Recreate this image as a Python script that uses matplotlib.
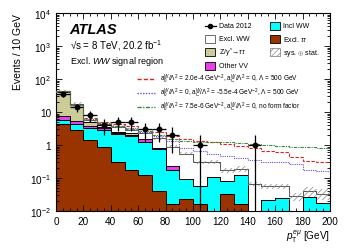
import numpy as np
import matplotlib
matplotlib.use("Agg")
import matplotlib.pyplot as plt
from matplotlib.patches import Rectangle
from matplotlib.ticker import FixedLocator, FixedFormatter, MultipleLocator, LogLocator, NullFormatter

plt.rcParams['font.family'] = ['Liberation Sans', 'DejaVu Sans']
plt.rcParams['mathtext.fontset'] = 'custom'
plt.rcParams['mathtext.rm'] = 'Liberation Sans'
plt.rcParams['mathtext.it'] = 'Liberation Sans:italic'
plt.rcParams['mathtext.bf'] = 'Liberation Sans:bold'
plt.rcParams['hatch.linewidth'] = 0.5

# ---------------- data ----------------
bin_edges = list(range(0, 210, 10))
excl_tautau = [4.5, 2.8, 1.4, 0.9, 0.3, 0.17, 0.12, 0.04, 0.016, 0.023, 0.016, 0.0, 0.033, 0.016, 0.0, 0.0, 0.0, 0.0, 0.0, 0.0]
incl_ww = [1.2, 1.7, 1.9, 1.95, 1.9, 1.73, 1.13, 0.72, 0.154, 0.07, 0.041, 0.105, 0.05, 0.107, 0.0, 0.022, 0.025, 0.0, 0.026, 0.017]
other_vv = [2.0, 1.0, 0.55, 0.45, 0.2, 0.15, 0.25, 0.05, 0.07, 0.0, 0.0, 0.0, 0.0, 0.0, 0.0, 0.0, 0.0, 0.0, 0.0, 0.0]
z_tautau = [34.0, 12.0, 1.05, 0.3, 0.1, 0.25, 0.0, 0.0, 0.0, 0.0, 0.0, 0.0, 0.0, 0.0, 0.0, 0.0, 0.0, 0.0, 0.0, 0.0]
excl_ww = [0.8, 0.5, 0.7, 0.9, 1.1, 0.6, 0.9, 0.8, 0.66, 0.46, 0.24, 0.2, 0.09, 0.067, 0.066, 0.034, 0.031, 0.028, 0.014, 0.017]
rel_unc = [0.12, 0.12, 0.1, 0.1, 0.1, 0.1, 0.1, 0.1, 0.1, 0.12, 0.12, 0.15, 0.2, 0.2, 0.15, 0.15, 0.15, 0.3, 0.35, 0.35]
data_2012 = [35, 14, 8, 4, 5, 5, 3, 3, 2, 0, 1, 0, 0, 0, 1, 0, 0, 0, 0, 0]
sig_a0 = [43, 16, 6.5, 5.0, 4.5, 3.9, 3.0, 2.5, 1.9, 1.5, 1.3, 1.2, 1.05, 0.95, 0.8, 0.65, 0.6, 0.45, 0.33, 0.3]
sig_ac = [43, 16, 6.0, 4.6, 3.9, 3.2, 2.5, 1.9, 1.35, 0.8, 0.65, 0.55, 0.47, 0.42, 0.36, 0.3, 0.3, 0.27, 0.17, 0.16]
sig_noff = [43, 16, 6.0, 4.6, 3.8, 3.1, 2.6, 2.0, 1.5, 1.3, 1.25, 1.2, 1.2, 1.15, 1.1, 1.0, 0.95, 0.9, 0.85, 0.8]

label_a0 = r"$\mathrm{a}_0^W/\Lambda^2$ = 2.0e-4 GeV$^{-2}$, $\mathrm{a}_C^W/\Lambda^2$ = 0, $\Lambda$ = 500 GeV"
label_ac = r"$\mathrm{a}_0^W/\Lambda^2$ = 0, $\mathrm{a}_C^W/\Lambda^2$ = -5.5e-4 GeV$^{-2}$, $\Lambda$ = 500 GeV"
label_noff = r"$\mathrm{a}_0^W/\Lambda^2$ = 7.5e-6 GeV$^{-2}$, $\mathrm{a}_C^W/\Lambda^2$ = 0, no form factor"

C_TT, C_WW, C_VV, C_Z = '#993300', '#00ffff', '#e840e8', '#cccc99'
C_R, C_P, C_G = '#e02020', '#6a4fd8', '#3a8a3a'
LS_R, LS_P, LS_G = (0, (3, 1.5)), (0, (1, 1)), (0, (3, 1, 1, 1))

# ---------------- figure ----------------
fig = plt.figure(figsize=(3.49, 2.51), dpi=100)
ax = fig.add_axes([0.1605, 0.155, 0.785, 0.789])
ax.set_yscale('log')
edges = np.array(bin_edges, dtype=float)
centers = 0.5 * (edges[:-1] + edges[1:])

layers = [
    (excl_tautau, C_TT, 'black'),
    (incl_ww, C_WW, 'black'),
    (other_vv, C_VV, 'black'),
    (z_tautau, C_Z, 'black'),
    (excl_ww, 'white', '#555555'),
]
cum = np.zeros(len(centers))
for vals, fc, ec in layers:
    v = np.array(vals, dtype=float)
    top = cum + v
    ax.stairs(np.maximum(top, 1e-4), edges, baseline=np.maximum(cum, 1e-4), fill=True, color=fc, lw=0)
    cum = top
# outlines
cum = np.zeros(len(centers))
for vals, fc, ec in layers:
    v = np.array(vals, dtype=float)
    top = cum + v
    mask = v > 0
    for i in range(len(centers)):
        if mask[i]:
            ax.plot([edges[i], edges[i+1]], [top[i], top[i]], color=ec, lw=0.7, zorder=3)
    for i in range(len(edges)):
        left = top[i-1] if i > 0 and mask[i-1] else None
        right = top[i] if i < len(centers) and mask[i] else None
        if left is not None and right is not None:
            ax.plot([edges[i], edges[i]], [min(left, right), max(left, right)], color=ec, lw=0.7, zorder=3)
        elif left is not None:
            ax.plot([edges[i], edges[i]], [max(cum[i-1], 1e-4), left], color=ec, lw=0.7, zorder=3)
        elif right is not None:
            ax.plot([edges[i], edges[i]], [max(cum[i], 1e-4), right], color=ec, lw=0.7, zorder=3)
    cum = top

total = cum
unc = np.array(rel_unc)
ax.stairs(total * (1 + unc), edges, baseline=total * (1 - unc), fill=True,
          facecolor='none', edgecolor='#888888', hatch='//////', lw=0, zorder=4)

# signal lines
ax.stairs(sig_a0, edges, baseline=None, color=C_R, ls=LS_R, lw=0.8, zorder=5)
ax.stairs(sig_ac, edges, baseline=None, color=C_P, ls=LS_P, lw=0.8, zorder=5)
ax.stairs(sig_noff, edges, baseline=None, color=C_G, ls=LS_G, lw=0.8, zorder=5)

# data
d = np.array(data_2012, dtype=float)
m = d > 0
yerr_lo = np.minimum(np.sqrt(d[m]), d[m] - 1e-3)
yerr_hi = np.sqrt(d[m])
ax.errorbar(centers[m], d[m], xerr=5, yerr=[yerr_lo, yerr_hi], fmt='o', color='black',
            ms=3.2, lw=0.9, capsize=0, zorder=6)

ax.set_xlim(0, 200)
ax.set_ylim(1e-2, 1e4)
ax.xaxis.set_major_locator(MultipleLocator(20))
ax.xaxis.set_minor_locator(MultipleLocator(5))
ax.yaxis.set_major_locator(FixedLocator([1e-2, 1e-1, 1, 10, 1e2, 1e3, 1e4]))
ax.yaxis.set_major_formatter(FixedFormatter([r'$10^{-2}$', r'$10^{-1}$', '1', '10', r'$10^{2}$', r'$10^{3}$', r'$10^{4}$']))
ax.yaxis.set_minor_locator(LogLocator(base=10, subs=np.arange(2, 10)))
ax.yaxis.set_minor_formatter(NullFormatter())
ax.tick_params(which='both', direction='in', top=True, right=True, labelsize=7.2, width=0.6)
ax.tick_params(which='major', length=4)
ax.tick_params(which='minor', length=2)
for s in ax.spines.values():
    s.set_linewidth(0.8)

ax.set_ylabel('Events / 10 GeV', fontsize=7.5, loc='top', labelpad=5)
ax.set_xlabel(r'$p_{\mathrm{T}}^{e\mu}$ [GeV]', fontsize=7.2, loc='right', labelpad=1)

ax.text(0.05, 0.919, 'ATLAS', transform=ax.transAxes, fontsize=10.5, fontweight='bold', fontstyle='italic', va='center')
ax.text(0.05, 0.843, '\u221as = 8 TeV, 20.2 fb$^{-1}$', transform=ax.transAxes, fontsize=7, va='center')
ax.text(0.05, 0.758, r'Excl. $WW$ signal region', transform=ax.transAxes, fontsize=6.5, va='center')

# ---- manual legend 1 (pixel positions converted to axes fraction) ----
def fx(px):
    return (px - 56) / 274.0

def fy(py):
    return (212 - py) / 198.0

LFS = 5.0
bw, bh = 10, 8

def box(x0, yc, fc, ec='black', hatch=None):
    r = Rectangle((fx(x0), fy(yc + bh / 2)), bw / 274.0, bh / 198.0, transform=ax.transAxes,
                  facecolor=fc, edgecolor=ec, lw=0.6, hatch=hatch, clip_on=False, zorder=7)
    ax.add_patch(r)

# column 1
rows1 = [26.5, 39.5, 53, 66.5]
ax.plot([fx(205), fx(216)], [fy(rows1[0])] * 2, color='black', lw=0.9, transform=ax.transAxes, clip_on=False, zorder=7)
ax.plot([fx(210.5)], [fy(rows1[0])], 'o', color='black', ms=3, transform=ax.transAxes, clip_on=False, zorder=7)
box(205, rows1[1], 'white', '#555555')
box(205, rows1[2], C_Z)
box(205, rows1[3], C_VV)
labels1 = ['Data 2012', 'Excl. WW', r'Z/$\gamma^{*}\!\rightarrow\!\tau\tau$', 'Other VV']
for lab, yy in zip(labels1, rows1):
    ax.text(fx(219), fy(yy), lab, transform=ax.transAxes, fontsize=LFS, va='center', ha='left', zorder=7)
# column 2
rows2 = [26.5, 39.5, 53]
box(270, rows2[0], C_WW)
box(270, rows2[1], C_TT)
box(270, rows2[2], 'none', '#888888', hatch='//////')
labels2 = ['Incl WW', r'Excl. $\tau\tau$', r'sys. $\oplus$ stat.']
for lab, yy in zip(labels2, rows2):
    ax.text(fx(283), fy(yy), lab, transform=ax.transAxes, fontsize=LFS, va='center', ha='left', zorder=7)

# ---- manual legend 2 (signal lines), stacked by measured text heights ----
renderer = fig.canvas.get_renderer()
y_top = 72.5
for col, ls, lab in zip([C_R, C_P, C_G], [LS_R, LS_P, LS_G], [label_a0, label_ac, label_noff]):
    t = ax.text(fx(160), fy(y_top), lab, transform=ax.transAxes, fontsize=4.7, va='top', ha='left', zorder=7)
    h = t.get_window_extent(renderer=renderer).height
    yc = y_top + h / 2.0 + 1.0
    ax.plot([fx(137), fx(155)], [fy(yc)] * 2, color=col, ls=ls, lw=1.0, transform=ax.transAxes, clip_on=False, zorder=7)
    y_top += h + 0.6

fig.savefig('out.png', dpi=100)
